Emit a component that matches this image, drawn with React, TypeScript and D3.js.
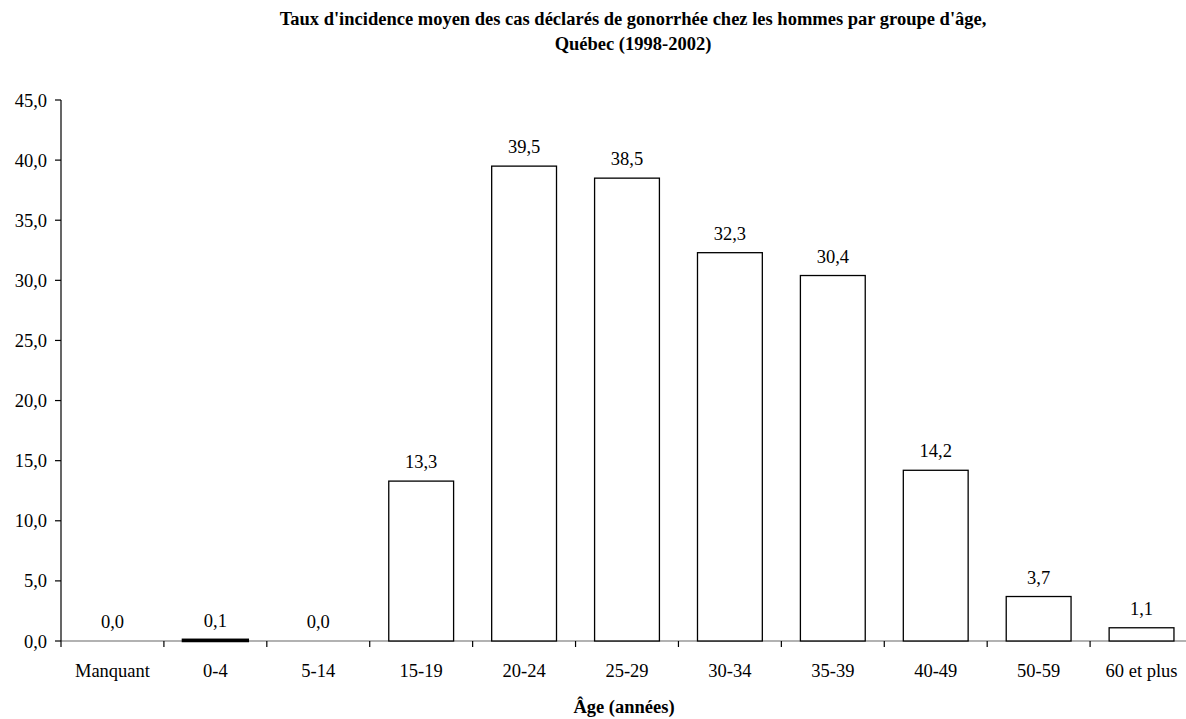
import React from "react";
import * as d3 from "d3";

const categories = ["Manquant", "0-4", "5-14", "15-19", "20-24", "25-29", "30-34", "35-39", "40-49", "50-59", "60 et plus"];
const values = [0.0, 0.1, 0.0, 13.3, 39.5, 38.5, 32.3, 30.4, 14.2, 3.7, 1.1];
const yTicks = [0, 5, 10, 15, 20, 25, 30, 35, 40, 45];
const titleLines = ["Taux d'incidence moyen des cas déclarés de gonorrhée chez les hommes par groupe d'âge,", "Québec (1998-2002)"];
const xTitle = "Âge (années)";

const W = 1186, H = 719;
const left = 61, right = 1193, top = 100, bottom = 641;
const font = "Liberation Serif";
const fmt = (v: number) => v.toFixed(1).replace(".", ",");
const ts = { fontFamily: font } as React.CSSProperties;
const FS = 18.5;

export default function App() {
  const x = d3.scaleBand<string>().domain(categories).range([left, right]).paddingInner(0).paddingOuter(0);
  const y = d3.scaleLinear().domain([0, 45]).range([bottom, top]);
  const bw = x.bandwidth() * 0.63;
  const cx = (c: string) => (x(c) as number) + x.bandwidth() / 2;
  const boundaries = categories.map((c) => x(c) as number).concat([right]);
  return (
    <svg width={W} height={H} style={{ position: "absolute", left: 0, top: 0, background: "#fff", fontFamily: font }}>
      <rect x={0} y={0} width={W} height={H} fill="#fff" />
      {titleLines.map((t, i) => (
        <text key={i} x={633} y={25 + i * 25} textAnchor="middle" fontSize={18.5} fontWeight="bold" fill="#000" style={ts}>{t}</text>
      ))}
      <line x1={left} x2={right} y1={bottom} y2={bottom} stroke="#666" strokeWidth={1.2} />
      {values.map((v, i) => {
        const c = categories[i];
        const yy = y(v);
        return (
          <g key={c}>
            {v > 0 && (
              <rect x={cx(c) - bw / 2} y={yy} width={bw} height={bottom - yy} fill="#fff" stroke="#000" strokeWidth={bottom - yy < 3 ? 2.5 : 1.3} />
            )}
            <text x={cx(c)} y={yy - 13} textAnchor="middle" fontSize={FS} fill="#000" style={ts}>{fmt(v)}</text>
          </g>
        );
      })}
      <line x1={left} x2={left} y1={top} y2={bottom} stroke="#000" strokeWidth={1.2} />
      {yTicks.map((t) => (
        <g key={t}>
          <line x1={left - 6} x2={left} y1={y(t)} y2={y(t)} stroke="#000" strokeWidth={1.2} />
          <text x={47} y={y(t) + 6.5} textAnchor="end" fontSize={FS} fill="#000" style={ts}>{fmt(t)}</text>
        </g>
      ))}
      {boundaries.map((b, i) => (
        <line key={i} x1={b} x2={b} y1={bottom} y2={bottom + 6} stroke="#000" strokeWidth={1.2} />
      ))}
      {categories.map((c) => (
        <text key={c} x={cx(c)} y={677} textAnchor="middle" fontSize={FS} fill="#000" style={ts}>{c}</text>
      ))}
      <text x={624} y={713} textAnchor="middle" fontSize={18.5} fontWeight="bold" fill="#000" style={ts}>{xTitle}</text>
    </svg>
  );
}
